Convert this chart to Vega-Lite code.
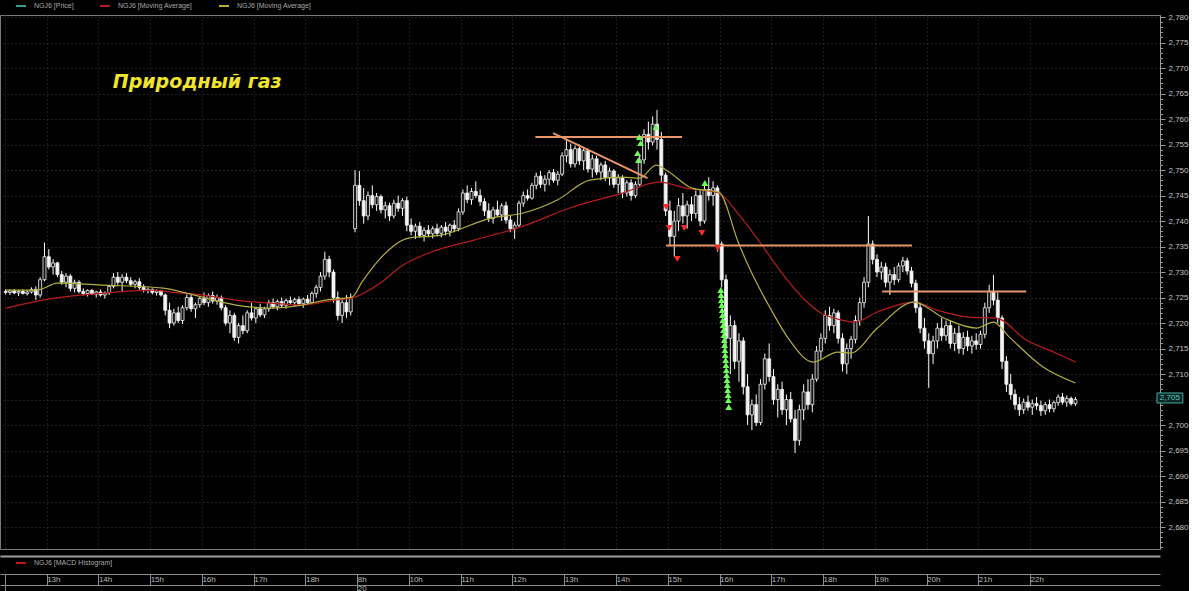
{
"$schema": "https://vega.github.io/schema/vega-lite/v6.json",
"width": 1160, "height": 534, "padding": 0, "background": "#000000",
"config": {"view": {"stroke": "#7a7a7a", "strokeWidth": 1}, "font": "Liberation Sans", "axis": {"labelFont": "Liberation Sans"}, "legend": {"labelFont": "Liberation Sans"}},
"datasets": {
"bars": [
{"i":0,"o":2.7262,"h":2.7266,"l":2.7256,"c":2.7260},{"i":1,"o":2.7260,"h":2.7266,"l":2.7255,"c":2.7263},{"i":2,"o":2.7263,"h":2.7267,"l":2.7257,"c":2.7259},{"i":3,"o":2.7259,"h":2.7265,"l":2.7253,"c":2.7262},{"i":4,"o":2.7262,"h":2.7266,"l":2.7256,"c":2.7258},{"i":5,"o":2.7258,"h":2.7264,"l":2.7254,"c":2.7261},{"i":6,"o":2.7261,"h":2.7270,"l":2.7258,"c":2.7266},{"i":7,"o":2.7266,"h":2.7272,"l":2.7245,"c":2.7255},{"i":8,"o":2.7255,"h":2.7290,"l":2.7250,"c":2.7285},{"i":9,"o":2.7285,"h":2.7358,"l":2.7282,"c":2.7330},
{"i":10,"o":2.7330,"h":2.7345,"l":2.7305,"c":2.7310},{"i":11,"o":2.7310,"h":2.7325,"l":2.7295,"c":2.7318},{"i":12,"o":2.7318,"h":2.7320,"l":2.7290,"c":2.7295},{"i":13,"o":2.7295,"h":2.7302,"l":2.7275,"c":2.7280},{"i":14,"o":2.7280,"h":2.7298,"l":2.7270,"c":2.7292},{"i":15,"o":2.7292,"h":2.7296,"l":2.7262,"c":2.7268},{"i":16,"o":2.7268,"h":2.7285,"l":2.7260,"c":2.7280},{"i":17,"o":2.7280,"h":2.7284,"l":2.7258,"c":2.7262},{"i":18,"o":2.7262,"h":2.7268,"l":2.7254,"c":2.7258},{"i":19,"o":2.7258,"h":2.7266,"l":2.7252,"c":2.7264},
{"i":20,"o":2.7264,"h":2.7267,"l":2.7255,"c":2.7257},{"i":21,"o":2.7257,"h":2.7263,"l":2.7250,"c":2.7261},{"i":22,"o":2.7261,"h":2.7266,"l":2.7252,"c":2.7255},{"i":23,"o":2.7255,"h":2.7262,"l":2.7248,"c":2.7259},{"i":24,"o":2.7259,"h":2.7275,"l":2.7255,"c":2.7272},{"i":25,"o":2.7272,"h":2.7298,"l":2.7268,"c":2.7290},{"i":26,"o":2.7290,"h":2.7300,"l":2.7275,"c":2.7280},{"i":27,"o":2.7280,"h":2.7296,"l":2.7262,"c":2.7290},{"i":28,"o":2.7290,"h":2.7298,"l":2.7278,"c":2.7283},{"i":29,"o":2.7283,"h":2.7290,"l":2.7272,"c":2.7276},
{"i":30,"o":2.7276,"h":2.7285,"l":2.7268,"c":2.7281},{"i":31,"o":2.7281,"h":2.7288,"l":2.7265,"c":2.7270},{"i":32,"o":2.7270,"h":2.7276,"l":2.7260,"c":2.7264},{"i":33,"o":2.7264,"h":2.7270,"l":2.7258,"c":2.7266},{"i":34,"o":2.7266,"h":2.7268,"l":2.7256,"c":2.7260},{"i":35,"o":2.7260,"h":2.7266,"l":2.7254,"c":2.7263},{"i":36,"o":2.7263,"h":2.7265,"l":2.7252,"c":2.7255},{"i":37,"o":2.7255,"h":2.7258,"l":2.7215,"c":2.7225},{"i":38,"o":2.7225,"h":2.7240,"l":2.7190,"c":2.7200},{"i":39,"o":2.7200,"h":2.7228,"l":2.7195,"c":2.7220},
{"i":40,"o":2.7220,"h":2.7232,"l":2.7200,"c":2.7205},{"i":41,"o":2.7205,"h":2.7235,"l":2.7198,"c":2.7230},{"i":42,"o":2.7230,"h":2.7256,"l":2.7225,"c":2.7250},{"i":43,"o":2.7250,"h":2.7255,"l":2.7222,"c":2.7228},{"i":44,"o":2.7228,"h":2.7240,"l":2.7210,"c":2.7236},{"i":45,"o":2.7236,"h":2.7252,"l":2.7230,"c":2.7248},{"i":46,"o":2.7248,"h":2.7260,"l":2.7235,"c":2.7240},{"i":47,"o":2.7240,"h":2.7258,"l":2.7232,"c":2.7254},{"i":48,"o":2.7254,"h":2.7262,"l":2.7238,"c":2.7243},{"i":49,"o":2.7243,"h":2.7256,"l":2.7236,"c":2.7250},
{"i":50,"o":2.7250,"h":2.7254,"l":2.7225,"c":2.7230},{"i":51,"o":2.7230,"h":2.7235,"l":2.7195,"c":2.7200},{"i":52,"o":2.7200,"h":2.7225,"l":2.7180,"c":2.7215},{"i":53,"o":2.7215,"h":2.7220,"l":2.7165,"c":2.7172},{"i":54,"o":2.7172,"h":2.7200,"l":2.7160,"c":2.7195},{"i":55,"o":2.7195,"h":2.7215,"l":2.7178,"c":2.7185},{"i":56,"o":2.7185,"h":2.7225,"l":2.7180,"c":2.7220},{"i":57,"o":2.7220,"h":2.7240,"l":2.7205,"c":2.7210},{"i":58,"o":2.7210,"h":2.7232,"l":2.7200,"c":2.7228},{"i":59,"o":2.7228,"h":2.7238,"l":2.7212,"c":2.7216},
{"i":60,"o":2.7216,"h":2.7232,"l":2.7210,"c":2.7228},{"i":61,"o":2.7228,"h":2.7245,"l":2.7222,"c":2.7240},{"i":62,"o":2.7240,"h":2.7248,"l":2.7228,"c":2.7232},{"i":63,"o":2.7232,"h":2.7246,"l":2.7225,"c":2.7242},{"i":64,"o":2.7242,"h":2.7250,"l":2.7230,"c":2.7235},{"i":65,"o":2.7235,"h":2.7248,"l":2.7228,"c":2.7244},{"i":66,"o":2.7244,"h":2.7252,"l":2.7236,"c":2.7240},{"i":67,"o":2.7240,"h":2.7250,"l":2.7232,"c":2.7246},{"i":68,"o":2.7246,"h":2.7252,"l":2.7235,"c":2.7238},{"i":69,"o":2.7238,"h":2.7250,"l":2.7230,"c":2.7247},
{"i":70,"o":2.7247,"h":2.7255,"l":2.7236,"c":2.7240},{"i":71,"o":2.7240,"h":2.7262,"l":2.7238,"c":2.7258},{"i":72,"o":2.7258,"h":2.7275,"l":2.7250,"c":2.7270},{"i":73,"o":2.7270,"h":2.7300,"l":2.7262,"c":2.7292},{"i":74,"o":2.7292,"h":2.7340,"l":2.7285,"c":2.7325},{"i":75,"o":2.7325,"h":2.7332,"l":2.7290,"c":2.7300},{"i":76,"o":2.7300,"h":2.7305,"l":2.7240,"c":2.7250},{"i":77,"o":2.7250,"h":2.7262,"l":2.7205,"c":2.7215},{"i":78,"o":2.7215,"h":2.7250,"l":2.7200,"c":2.7240},{"i":79,"o":2.7240,"h":2.7255,"l":2.7210,"c":2.7222},
{"i":80,"o":2.7222,"h":2.7258,"l":2.7215,"c":2.7248},{"i":81,"o":2.7385,"h":2.7500,"l":2.7378,"c":2.7470},{"i":82,"o":2.7470,"h":2.7498,"l":2.7430,"c":2.7440},{"i":83,"o":2.7440,"h":2.7465,"l":2.7395,"c":2.7410},{"i":84,"o":2.7410,"h":2.7458,"l":2.7402,"c":2.7450},{"i":85,"o":2.7450,"h":2.7470,"l":2.7425,"c":2.7432},{"i":86,"o":2.7432,"h":2.7455,"l":2.7420,"c":2.7448},{"i":87,"o":2.7448,"h":2.7452,"l":2.7415,"c":2.7422},{"i":88,"o":2.7422,"h":2.7438,"l":2.7405,"c":2.7430},{"i":89,"o":2.7430,"h":2.7436,"l":2.7400,"c":2.7410},
{"i":90,"o":2.7410,"h":2.7442,"l":2.7405,"c":2.7435},{"i":91,"o":2.7435,"h":2.7450,"l":2.7418,"c":2.7425},{"i":92,"o":2.7425,"h":2.7445,"l":2.7410,"c":2.7440},{"i":93,"o":2.7440,"h":2.7448,"l":2.7380,"c":2.7392},{"i":94,"o":2.7392,"h":2.7405,"l":2.7372,"c":2.7380},{"i":95,"o":2.7380,"h":2.7395,"l":2.7365,"c":2.7390},{"i":96,"o":2.7390,"h":2.7398,"l":2.7368,"c":2.7372},{"i":97,"o":2.7372,"h":2.7388,"l":2.7360,"c":2.7382},{"i":98,"o":2.7382,"h":2.7392,"l":2.7368,"c":2.7375},{"i":99,"o":2.7375,"h":2.7390,"l":2.7366,"c":2.7385},
{"i":100,"o":2.7385,"h":2.7395,"l":2.7370,"c":2.7376},{"i":101,"o":2.7376,"h":2.7392,"l":2.7368,"c":2.7388},{"i":102,"o":2.7388,"h":2.7398,"l":2.7372,"c":2.7380},{"i":103,"o":2.7380,"h":2.7395,"l":2.7370,"c":2.7392},{"i":104,"o":2.7392,"h":2.7402,"l":2.7378,"c":2.7385},{"i":105,"o":2.7385,"h":2.7425,"l":2.7380,"c":2.7418},{"i":106,"o":2.7418,"h":2.7462,"l":2.7412,"c":2.7455},{"i":107,"o":2.7455,"h":2.7470,"l":2.7435,"c":2.7442},{"i":108,"o":2.7442,"h":2.7465,"l":2.7432,"c":2.7458},{"i":109,"o":2.7458,"h":2.7478,"l":2.7445,"c":2.7450},
{"i":110,"o":2.7450,"h":2.7462,"l":2.7430,"c":2.7438},{"i":111,"o":2.7438,"h":2.7445,"l":2.7410,"c":2.7420},{"i":112,"o":2.7420,"h":2.7435,"l":2.7398,"c":2.7405},{"i":113,"o":2.7405,"h":2.7428,"l":2.7395,"c":2.7422},{"i":114,"o":2.7422,"h":2.7440,"l":2.7408,"c":2.7412},{"i":115,"o":2.7412,"h":2.7435,"l":2.7400,"c":2.7430},{"i":116,"o":2.7430,"h":2.7438,"l":2.7395,"c":2.7402},{"i":117,"o":2.7402,"h":2.7410,"l":2.7378,"c":2.7385},{"i":118,"o":2.7385,"h":2.7398,"l":2.7365,"c":2.7392},{"i":119,"o":2.7392,"h":2.7440,"l":2.7388,"c":2.7435},
{"i":120,"o":2.7435,"h":2.7458,"l":2.7428,"c":2.7450},{"i":121,"o":2.7450,"h":2.7462,"l":2.7440,"c":2.7445},{"i":122,"o":2.7445,"h":2.7475,"l":2.7442,"c":2.7470},{"i":123,"o":2.7470,"h":2.7495,"l":2.7462,"c":2.7488},{"i":124,"o":2.7488,"h":2.7498,"l":2.7465,"c":2.7472},{"i":125,"o":2.7472,"h":2.7490,"l":2.7458,"c":2.7482},{"i":126,"o":2.7482,"h":2.7500,"l":2.7470,"c":2.7495},{"i":127,"o":2.7495,"h":2.7502,"l":2.7475,"c":2.7480},{"i":128,"o":2.7480,"h":2.7498,"l":2.7470,"c":2.7492},{"i":129,"o":2.7492,"h":2.7535,"l":2.7488,"c":2.7528},
{"i":130,"o":2.7528,"h":2.7559,"l":2.7515,"c":2.7540},{"i":131,"o":2.7540,"h":2.7552,"l":2.7505,"c":2.7512},{"i":132,"o":2.7512,"h":2.7548,"l":2.7505,"c":2.7542},{"i":133,"o":2.7542,"h":2.7550,"l":2.7510,"c":2.7518},{"i":134,"o":2.7518,"h":2.7545,"l":2.7500,"c":2.7538},{"i":135,"o":2.7538,"h":2.7542,"l":2.7495,"c":2.7502},{"i":136,"o":2.7502,"h":2.7530,"l":2.7485,"c":2.7522},{"i":137,"o":2.7522,"h":2.7528,"l":2.7490,"c":2.7496},{"i":138,"o":2.7496,"h":2.7515,"l":2.7480,"c":2.7510},{"i":139,"o":2.7510,"h":2.7518,"l":2.7478,"c":2.7485},
{"i":140,"o":2.7485,"h":2.7505,"l":2.7470,"c":2.7498},{"i":141,"o":2.7498,"h":2.7502,"l":2.7465,"c":2.7472},{"i":142,"o":2.7472,"h":2.7492,"l":2.7455,"c":2.7485},{"i":143,"o":2.7485,"h":2.7490,"l":2.7445,"c":2.7455},{"i":144,"o":2.7455,"h":2.7480,"l":2.7448,"c":2.7475},{"i":145,"o":2.7475,"h":2.7482,"l":2.7440,"c":2.7450},{"i":146,"o":2.7450,"h":2.7478,"l":2.7445,"c":2.7472},{"i":147,"o":2.7472,"h":2.7530,"l":2.7468,"c":2.7520},{"i":148,"o":2.7520,"h":2.7580,"l":2.7512,"c":2.7570},{"i":149,"o":2.7570,"h":2.7595,"l":2.7540,"c":2.7555},
{"i":150,"o":2.7555,"h":2.7605,"l":2.7548,"c":2.7590},{"i":151,"o":2.7590,"h":2.7618,"l":2.7540,"c":2.7560},{"i":152,"o":2.7560,"h":2.7575,"l":2.7475,"c":2.7490},{"i":153,"o":2.7490,"h":2.7495,"l":2.7410,"c":2.7420},{"i":154,"o":2.7420,"h":2.7440,"l":2.7350,"c":2.7370},{"i":155,"o":2.7370,"h":2.7420,"l":2.7330,"c":2.7400},{"i":156,"o":2.7400,"h":2.7445,"l":2.7380,"c":2.7430},{"i":157,"o":2.7430,"h":2.7455,"l":2.7395,"c":2.7410},{"i":158,"o":2.7410,"h":2.7440,"l":2.7385,"c":2.7432},{"i":159,"o":2.7432,"h":2.7448,"l":2.7400,"c":2.7415},
{"i":160,"o":2.7415,"h":2.7460,"l":2.7405,"c":2.7450},{"i":161,"o":2.7450,"h":2.7462,"l":2.7390,"c":2.7400},{"i":162,"o":2.7400,"h":2.7470,"l":2.7395,"c":2.7462},{"i":163,"o":2.7462,"h":2.7486,"l":2.7440,"c":2.7450},{"i":164,"o":2.7450,"h":2.7478,"l":2.7430,"c":2.7465},{"i":165,"o":2.7465,"h":2.7470,"l":2.7340,"c":2.7355},{"i":166,"o":2.7355,"h":2.7360,"l":2.7270,"c":2.7285},{"i":167,"o":2.7285,"h":2.7295,"l":2.7150,"c":2.7170},{"i":168,"o":2.7170,"h":2.7215,"l":2.7100,"c":2.7195},{"i":169,"o":2.7195,"h":2.7205,"l":2.7110,"c":2.7125},
{"i":170,"o":2.7125,"h":2.7180,"l":2.7085,"c":2.7165},{"i":171,"o":2.7165,"h":2.7172,"l":2.7060,"c":2.7075},{"i":172,"o":2.7075,"h":2.7100,"l":2.7000,"c":2.7020},{"i":173,"o":2.7020,"h":2.7050,"l":2.6990,"c":2.7040},{"i":174,"o":2.7040,"h":2.7060,"l":2.6998,"c":2.7005},{"i":175,"o":2.7005,"h":2.7090,"l":2.7000,"c":2.7080},{"i":176,"o":2.7080,"h":2.7140,"l":2.7070,"c":2.7130},{"i":177,"o":2.7130,"h":2.7160,"l":2.7085,"c":2.7095},{"i":178,"o":2.7095,"h":2.7110,"l":2.7040,"c":2.7050},{"i":179,"o":2.7050,"h":2.7080,"l":2.7015,"c":2.7070},
{"i":180,"o":2.7070,"h":2.7085,"l":2.7020,"c":2.7030},{"i":181,"o":2.7030,"h":2.7060,"l":2.7000,"c":2.7050},{"i":182,"o":2.7050,"h":2.7065,"l":2.7005,"c":2.7012},{"i":183,"o":2.7012,"h":2.7030,"l":2.6945,"c":2.6970},{"i":184,"o":2.6970,"h":2.7040,"l":2.6960,"c":2.7030},{"i":185,"o":2.7030,"h":2.7080,"l":2.7010,"c":2.7065},{"i":186,"o":2.7065,"h":2.7090,"l":2.7030,"c":2.7040},{"i":187,"o":2.7040,"h":2.7100,"l":2.7025,"c":2.7090},{"i":188,"o":2.7090,"h":2.7155,"l":2.7085,"c":2.7145},{"i":189,"o":2.7145,"h":2.7180,"l":2.7130,"c":2.7170},
{"i":190,"o":2.7170,"h":2.7225,"l":2.7160,"c":2.7215},{"i":191,"o":2.7215,"h":2.7232,"l":2.7185,"c":2.7195},{"i":192,"o":2.7195,"h":2.7228,"l":2.7180,"c":2.7220},{"i":193,"o":2.7220,"h":2.7225,"l":2.7160,"c":2.7170},{"i":194,"o":2.7170,"h":2.7180,"l":2.7105,"c":2.7120},{"i":195,"o":2.7120,"h":2.7160,"l":2.7100,"c":2.7150},{"i":196,"o":2.7150,"h":2.7175,"l":2.7130,"c":2.7168},{"i":197,"o":2.7168,"h":2.7215,"l":2.7160,"c":2.7205},{"i":198,"o":2.7205,"h":2.7250,"l":2.7195,"c":2.7240},{"i":199,"o":2.7240,"h":2.7290,"l":2.7230,"c":2.7280},
{"i":200,"o":2.7280,"h":2.7410,"l":2.7270,"c":2.7355},{"i":201,"o":2.7355,"h":2.7362,"l":2.7315,"c":2.7325},{"i":202,"o":2.7325,"h":2.7335,"l":2.7290,"c":2.7300},{"i":203,"o":2.7300,"h":2.7320,"l":2.7285,"c":2.7310},{"i":204,"o":2.7310,"h":2.7318,"l":2.7270,"c":2.7280},{"i":205,"o":2.7280,"h":2.7305,"l":2.7255,"c":2.7295},{"i":206,"o":2.7295,"h":2.7310,"l":2.7275,"c":2.7285},{"i":207,"o":2.7285,"h":2.7318,"l":2.7280,"c":2.7312},{"i":208,"o":2.7312,"h":2.7330,"l":2.7300,"c":2.7322},{"i":209,"o":2.7322,"h":2.7328,"l":2.7295,"c":2.7302},
{"i":210,"o":2.7302,"h":2.7310,"l":2.7270,"c":2.7278},{"i":211,"o":2.7278,"h":2.7285,"l":2.7220,"c":2.7230},{"i":212,"o":2.7230,"h":2.7240,"l":2.7180,"c":2.7190},{"i":213,"o":2.7190,"h":2.7210,"l":2.7150,"c":2.7165},{"i":214,"o":2.7165,"h":2.7180,"l":2.7073,"c":2.7140},{"i":215,"o":2.7140,"h":2.7175,"l":2.7120,"c":2.7165},{"i":216,"o":2.7165,"h":2.7200,"l":2.7150,"c":2.7190},{"i":217,"o":2.7190,"h":2.7210,"l":2.7165,"c":2.7175},{"i":218,"o":2.7175,"h":2.7205,"l":2.7165,"c":2.7195},{"i":219,"o":2.7195,"h":2.7205,"l":2.7150,"c":2.7160},
{"i":220,"o":2.7160,"h":2.7190,"l":2.7145,"c":2.7180},{"i":221,"o":2.7180,"h":2.7195,"l":2.7140,"c":2.7150},{"i":222,"o":2.7150,"h":2.7182,"l":2.7138,"c":2.7172},{"i":223,"o":2.7172,"h":2.7185,"l":2.7145,"c":2.7155},{"i":224,"o":2.7155,"h":2.7175,"l":2.7140,"c":2.7165},{"i":225,"o":2.7165,"h":2.7180,"l":2.7148,"c":2.7158},{"i":226,"o":2.7158,"h":2.7185,"l":2.7150,"c":2.7178},{"i":227,"o":2.7178,"h":2.7240,"l":2.7170,"c":2.7230},{"i":228,"o":2.7230,"h":2.7275,"l":2.7220,"c":2.7262},{"i":229,"o":2.7262,"h":2.7294,"l":2.7235,"c":2.7245},
{"i":230,"o":2.7245,"h":2.7260,"l":2.7200,"c":2.7210},{"i":231,"o":2.7210,"h":2.7215,"l":2.7110,"c":2.7125},{"i":232,"o":2.7125,"h":2.7135,"l":2.7065,"c":2.7080},{"i":233,"o":2.7080,"h":2.7100,"l":2.7050,"c":2.7060},{"i":234,"o":2.7060,"h":2.7070,"l":2.7030,"c":2.7040},{"i":235,"o":2.7040,"h":2.7055,"l":2.7018,"c":2.7030},{"i":236,"o":2.7030,"h":2.7052,"l":2.7022,"c":2.7045},{"i":237,"o":2.7045,"h":2.7058,"l":2.7028,"c":2.7035},{"i":238,"o":2.7035,"h":2.7050,"l":2.7020,"c":2.7042},{"i":239,"o":2.7042,"h":2.7055,"l":2.7030,"c":2.7038},
{"i":240,"o":2.7038,"h":2.7048,"l":2.7018,"c":2.7028},{"i":241,"o":2.7028,"h":2.7045,"l":2.7020,"c":2.7040},{"i":242,"o":2.7040,"h":2.7050,"l":2.7025,"c":2.7032},{"i":243,"o":2.7032,"h":2.7048,"l":2.7025,"c":2.7044},{"i":244,"o":2.7044,"h":2.7060,"l":2.7038,"c":2.7055},{"i":245,"o":2.7055,"h":2.7063,"l":2.7040,"c":2.7045},{"i":246,"o":2.7045,"h":2.7058,"l":2.7036,"c":2.7052},{"i":247,"o":2.7052,"h":2.7056,"l":2.7038,"c":2.7042},{"i":248,"o":2.7042,"h":2.7055,"l":2.7038,"c":2.7050}
],
"ma": [
{"i":0,"p":2.72294,"s":"slow"},{"i":11.3,"p":2.7249,"s":"slow"},{"i":22.8,"p":2.72588,"s":"slow"},{"i":34.3,"p":2.72647,"s":"slow"},{"i":38.2,"p":2.72608,"s":"slow"},{"i":45.8,"p":2.72549,"s":"slow"},{"i":53.4,"p":2.72451,"s":"slow"},{"i":61.2,"p":2.72392,"s":"slow"},{"i":68.8,"p":2.72353,"s":"slow"},{"i":76.4,"p":2.72451,"s":"slow"},{"i":80.3,"p":2.7249,"s":"slow"},{"i":87.2,"p":2.72804,"s":"slow"},{"i":91.8,"p":2.73118,"s":"slow"},{"i":98.7,"p":2.73392,"s":"slow"},{"i":108.6,"p":2.73627,"s":"slow"},{"i":118.7,"p":2.73863,"s":"slow"},{"i":131.5,"p":2.74275,"s":"slow"},{"i":143,"p":2.74549,"s":"slow"},{"i":151.5,"p":2.74765,"s":"slow"},{"i":157.7,"p":2.74647,"s":"slow"},{"i":165.3,"p":2.74549,"s":"slow"},{"i":169.9,"p":2.74137,"s":"slow"},{"i":174.5,"p":2.73627,"s":"slow"},{"i":179.8,"p":2.73,"s":"slow"},{"i":185.3,"p":2.72451,"s":"slow"},{"i":189,"p":2.72196,"s":"slow"},{"i":192.9,"p":2.72078,"s":"slow"},{"i":196.8,"p":2.7202,"s":"slow"},{"i":202.1,"p":2.72216,"s":"slow"},{"i":210.6,"p":2.72412,"s":"slow"},{"i":215.9,"p":2.72255,"s":"slow"},{"i":223.5,"p":2.72118,"s":"slow"},{"i":229.7,"p":2.72098,"s":"slow"},{"i":236.6,"p":2.71667,"s":"slow"},{"i":243.5,"p":2.71412,"s":"slow"},{"i":248,"p":2.71235,"s":"slow"},
{"i":0,"p":2.72647,"s":"fast"},{"i":7.4,"p":2.72647,"s":"fast"},{"i":12,"p":2.72784,"s":"fast"},{"i":22.8,"p":2.72745,"s":"fast"},{"i":36.6,"p":2.72686,"s":"fast"},{"i":41.9,"p":2.72588,"s":"fast"},{"i":53.4,"p":2.72353,"s":"fast"},{"i":61.2,"p":2.72294,"s":"fast"},{"i":68.8,"p":2.72353,"s":"fast"},{"i":74.1,"p":2.72451,"s":"fast"},{"i":80.3,"p":2.7251,"s":"fast"},{"i":82.6,"p":2.72804,"s":"fast"},{"i":86.5,"p":2.73235,"s":"fast"},{"i":93.4,"p":2.73667,"s":"fast"},{"i":101,"p":2.73725,"s":"fast"},{"i":112.5,"p":2.74059,"s":"fast"},{"i":120,"p":2.74157,"s":"fast"},{"i":127.9,"p":2.74412,"s":"fast"},{"i":135.4,"p":2.74804,"s":"fast"},{"i":143,"p":2.74863,"s":"fast"},{"i":147,"p":2.74843,"s":"fast"},{"i":150.8,"p":2.75098,"s":"fast"},{"i":153.8,"p":2.74961,"s":"fast"},{"i":159.1,"p":2.74647,"s":"fast"},{"i":165.3,"p":2.74569,"s":"fast"},{"i":169.9,"p":2.73569,"s":"fast"},{"i":172.2,"p":2.73118,"s":"fast"},{"i":177.5,"p":2.72255,"s":"fast"},{"i":181.4,"p":2.71706,"s":"fast"},{"i":187.2,"p":2.71235,"s":"fast"},{"i":192.9,"p":2.71431,"s":"fast"},{"i":195.9,"p":2.71412,"s":"fast"},{"i":202.1,"p":2.71902,"s":"fast"},{"i":210.6,"p":2.72412,"s":"fast"},{"i":217.5,"p":2.72098,"s":"fast"},{"i":225.1,"p":2.71902,"s":"fast"},{"i":229,"p":2.7202,"s":"fast"},{"i":232.7,"p":2.71725,"s":"fast"},{"i":240.5,"p":2.71137,"s":"fast"},{"i":248,"p":2.70824,"s":"fast"}
],
"lines": [
{"i":122.8,"i2":156.8,"p":2.75647,"p2":2.75647},{"i":126.9,"i2":148.8,"p":2.75725,"p2":2.74843},{"i":153.1,"i2":210.1,"p":2.7352,"p2":2.7352},{"i":203.2,"i2":236.6,"p":2.72618,"p2":2.72618}
],
"up": [
{"i":146.9,"p":2.75647},{"i":147.2,"p":2.75529},{"i":146.5,"p":2.75333},{"i":146.7,"p":2.75196},{"i":150.8,"p":2.75843},{"i":162.1,"p":2.74745},
{"i":165.79,"p":2.72647},{"i":165.86,"p":2.72549},{"i":165.94,"p":2.72451},{"i":166.02,"p":2.72353},{"i":166.1,"p":2.72255},{"i":166.18,"p":2.72157},{"i":166.26,"p":2.72059},{"i":166.34,"p":2.71961},{"i":166.43,"p":2.71863},{"i":166.51,"p":2.71765},{"i":166.59,"p":2.71667},{"i":166.67,"p":2.71569},{"i":166.75,"p":2.71471},{"i":166.83,"p":2.71373},{"i":166.91,"p":2.71275},{"i":166.99,"p":2.71176},{"i":167.07,"p":2.71078},{"i":167.15,"p":2.7098},{"i":167.23,"p":2.70882},{"i":167.31,"p":2.70784},{"i":167.39,"p":2.70686},{"i":167.47,"p":2.70588},{"i":167.55,"p":2.7049},{"i":167.64,"p":2.70353}
],
"down": [
{"i":153.1,"p":2.74275},{"i":153.8,"p":2.73863},{"i":157.3,"p":2.73863},{"i":161.4,"p":2.73765},{"i":155.7,"p":2.73255},{"i":165.1,"p":2.73471}
]
},
"layer": [
{"data": {"name": "bars"}, "mark": {"type": "rule", "color": "#ffffff", "strokeWidth": 1, "clip": true},
 "encoding": {
  "x": {"field": "i", "type": "quantitative", "scale": {"domain": [-0.15, 266.45], "nice": false, "zero": false},
   "axis": {"orient": "bottom", "offset": 25, "title": null, "values": [-0.15, 9.5, 21.5, 33.5, 45.5, 57.5, 69.5, 81.5, 93.5, 105.5, 117.5, 129.5, 141.5, 153.5, 165.5, 177.5, 189.5, 201.5, 213.5, 225.5, 237.5],
    "labelExpr": "datum.value < 0 ? '' : ['13h','14h','15h','16h','17h','18h','8h','10h','11h','12h','13h','14h','15h','16h','17h','18h','19h','20h','21h','22h'][round((datum.value-9.5)/12)]",
    "grid": true, "gridColor": "#3a3a3a", "gridDash": [1, 3], "gridWidth": 1, "domainColor": "#8a8a8a", "tickColor": "#8a8a8a", "tickSize": 11,
    "labelAlign": "left", "labelBaseline": "middle", "labelPadding": -5.5, "labelDx": 2, "labelColor": "#b8b8b8", "labelFontSize": 8, "labelFlush": false, "labelOverlap": false, "labelBound": false}},
  "y": {"field": "l", "type": "quantitative", "scale": {"domain": [2.6757, 2.7804], "nice": false, "zero": false},
   "axis": {"orient": "right", "title": null, "values": [2.68, 2.685, 2.69, 2.695, 2.7, 2.705, 2.71, 2.715, 2.72, 2.725, 2.73, 2.735, 2.74, 2.745, 2.75, 2.755, 2.76, 2.765, 2.77, 2.775, 2.78],
    "labelExpr": "abs(datum.value - 2.705) < 0.0001 ? '' : replace(format(datum.value, '.3f'), '.', ',')",
    "grid": true, "gridColor": "#3a3a3a", "gridDash": [1, 3], "domainColor": "#9a9a9a", "tickColor": "#9a9a9a", "tickSize": 5, "labelPadding": 3,
    "labelColor": "#c4c4c4", "labelFontSize": 8, "labelBaseline": "middle", "labelFlush": false, "labelOverlap": false, "labelBound": false}},
  "y2": {"field": "h"}
 }},
{"data": {"name": "bars"}, "mark": {"type": "bar", "size": 3, "stroke": "#f4f4f4", "strokeWidth": 0.8, "clip": true},
 "encoding": {
  "x": {"field": "i", "type": "quantitative",
   "axis": {"orient": "bottom", "offset": 36, "title": null, "values": [-0.15, 81.5], "labelExpr": "datum.value > 0 ? '20' : ''", "grid": false,
    "domainColor": "#8a8a8a", "tickColor": "#8a8a8a", "tickSize": 6, "labelAlign": "left", "labelBaseline": "middle", "labelPadding": -3, "labelDx": 3,
    "labelColor": "#b8b8b8", "labelFontSize": 8, "labelFlush": false, "labelOverlap": false, "labelBound": false}},
  "y": {"field": "o", "type": "quantitative",
   "axis": {"orient": "right", "title": null, "labels": false, "domain": false, "grid": false, "tickColor": "#9a9a9a", "tickSize": 2.5,
    "values": [2.676,2.677,2.678,2.679,2.68,2.681,2.682,2.683,2.684,2.685,2.686,2.687,2.688,2.689,2.69,2.691,2.692,2.693,2.694,2.695,2.696,2.697,2.698,2.699,2.7,2.701,2.702,2.703,2.704,2.705,2.706,2.707,2.708,2.709,2.71,2.711,2.712,2.713,2.714,2.715,2.716,2.717,2.718,2.719,2.72,2.721,2.722,2.723,2.724,2.725,2.726,2.727,2.728,2.729,2.73,2.731,2.732,2.733,2.734,2.735,2.736,2.737,2.738,2.739,2.74,2.741,2.742,2.743,2.744,2.745,2.746,2.747,2.748,2.749,2.75,2.751,2.752,2.753,2.754,2.755,2.756,2.757,2.758,2.759,2.76,2.761,2.762,2.763,2.764,2.765,2.766,2.767,2.768,2.769,2.77,2.771,2.772,2.773,2.774,2.775,2.776,2.777,2.778,2.779,2.78]}},
  "y2": {"field": "c"},
  "fill": {"condition": {"test": "datum.c > datum.o", "value": "#141414"}, "value": "#f4f4f4"}
 }},
{"data": {"name": "ma"}, "mark": {"type": "line", "strokeWidth": 1.2, "interpolate": "monotone"},
 "encoding": {
  "x": {"field": "i", "type": "quantitative",
   "axis": {"orient": "bottom", "offset": 7, "title": null, "values": [], "ticks": false, "labels": false, "grid": false, "domainColor": "#a0a0a0", "domainWidth": 2}},
  "y": {"field": "p", "type": "quantitative", "axis": null},
  "color": {"field": "s", "type": "nominal", "scale": {"domain": ["price", "slow", "fast"], "range": ["#3a9e8e", "#b81c1c", "#b4ae3c"]},
   "legend": {"orient": "none", "legendX": 15, "legendY": -15, "direction": "horizontal", "title": null, "symbolType": "stroke", "symbolSize": 100, "symbolStrokeWidth": 2,
    "labelFontSize": 7, "labelColor": "#a8a8a8", "labelOffset": 7, "columnPadding": 22, "padding": 0,
    "labelExpr": "datum.label == 'price' ? 'NGJ6 [Price]' : 'NGJ6 [Moving Average]'"}}
 }},
{"data": {"name": "lines"}, "mark": {"type": "rule", "color": "#e8966a", "strokeWidth": 2},
 "encoding": {"x": {"field": "i", "type": "quantitative", "axis": null}, "x2": {"field": "i2"}, "y": {"field": "p", "type": "quantitative", "axis": null}, "y2": {"field": "p2"}}},
{"data": {"name": "up"}, "mark": {"type": "point", "shape": "triangle-up", "filled": true, "color": "#6cff5a", "size": 46, "opacity": 1},
 "encoding": {"x": {"field": "i", "type": "quantitative", "axis": null}, "y": {"field": "p", "type": "quantitative", "axis": null}}},
{"data": {"name": "down"}, "mark": {"type": "point", "shape": "triangle-down", "filled": true, "color": "#ff2a2a", "size": 46, "opacity": 1},
 "encoding": {"x": {"field": "i", "type": "quantitative", "axis": null}, "y": {"field": "p", "type": "quantitative", "axis": null}}},
{"data": {"values": [{}]}, "mark": {"type": "text", "text": "Природный газ", "font": "DejaVu Sans", "fontSize": 19, "fontStyle": "italic", "fontWeight": "bold", "color": "#f0e52c", "align": "center", "baseline": "middle"},
 "encoding": {"x": {"datum": 44.4, "type": "quantitative", "axis": null}, "y": {"datum": 2.7672, "type": "quantitative", "axis": null}}},
{"data": {"values": [{}]}, "mark": {"type": "rect", "fill": "#0d2624", "stroke": "#3ab0a0", "strokeWidth": 1},
 "encoding": {"x": {"datum": 266.9, "type": "quantitative", "axis": null}, "x2": {"datum": 272.9}, "y": {"datum": 2.70629, "type": "quantitative", "axis": null}, "y2": {"datum": 2.70433}}},
{"data": {"values": [{}]}, "mark": {"type": "text", "text": "2,705", "fontSize": 8, "color": "#50d0c0", "align": "center", "baseline": "middle"},
 "encoding": {"x": {"datum": 269.9, "type": "quantitative", "axis": null}, "y": {"datum": 2.7053, "type": "quantitative", "axis": null}}},
{"data": {"values": [{"i": 0, "p": 2.7, "m": "NGJ6 [MACD Histogram]"}]}, "mark": {"type": "rule", "strokeWidth": 2},
 "encoding": {"x": {"field": "i", "type": "quantitative", "axis": null}, "x2": {"field": "i"}, "y": {"field": "p", "type": "quantitative", "axis": null},
  "stroke": {"field": "m", "type": "nominal", "scale": {"range": ["#c01818"]},
   "legend": {"orient": "none", "legendX": 15, "legendY": 542, "title": null, "symbolType": "stroke", "symbolSize": 100, "symbolStrokeWidth": 2, "labelFontSize": 7, "labelColor": "#a8a8a8", "labelOffset": 7, "padding": 0}}}}
],
"resolve": {"axis": {"x": "independent", "y": "independent"}}
}
